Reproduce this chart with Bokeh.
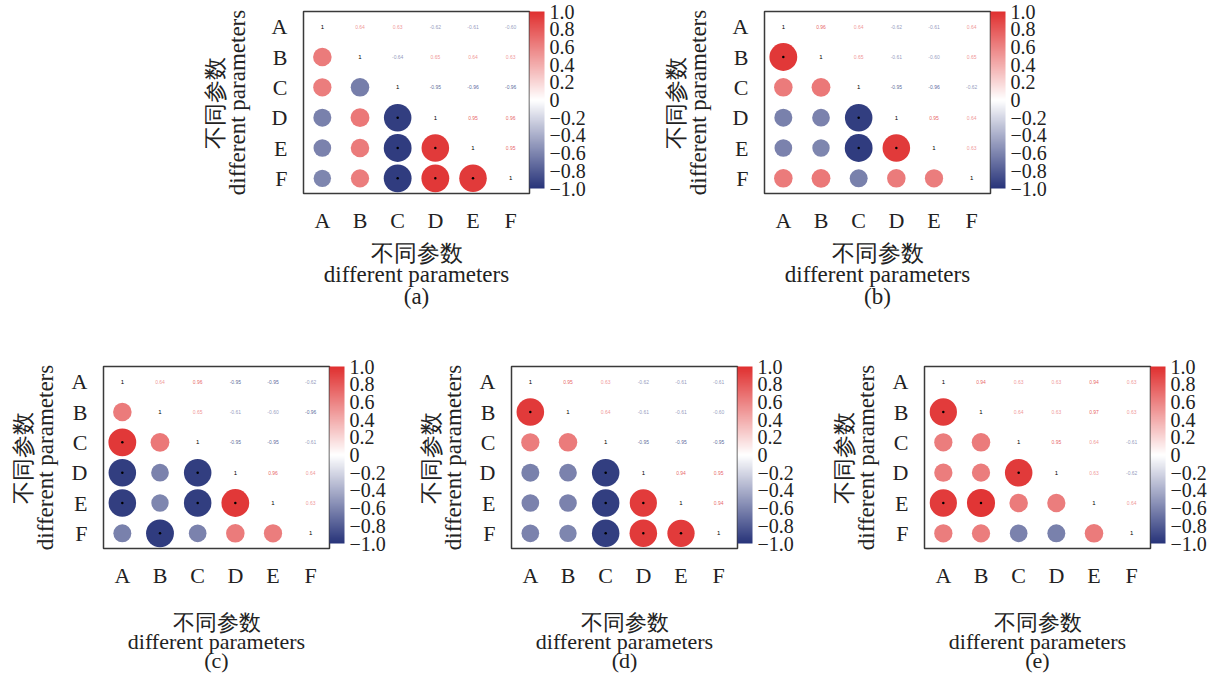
import numpy as np
from bokeh.plotting import figure
from bokeh.models import ColumnDataSource, LinearColorMapper, ColorBar, FixedTicker, Spacer, AllLabels
from bokeh.layouts import row, column
from bokeh.transform import transform
from bokeh.core.properties import value
from bokeh.embed import file_html
from bokeh.resources import INLINE

params = ["A", "B", "C", "D", "E", "F"]
panel_tags = ["(a)", "(b)", "(c)", "(d)", "(e)"]
title_cn = "不同参数"
title_en = "different parameters"
cbar_ticks = [-1.0, -0.8, -0.6, -0.4, -0.2, 0.0, 0.2, 0.4, 0.6, 0.8, 1.0]
cbar_labels = ["−1.0", "−0.8", "−0.6", "−0.4", "−0.2", "0", "0.2", "0.4", "0.6", "0.8", "1.0"]

# lower-triangle correlation values: rows B..F, columns A..(row-1)
corr_a = [
    [0.64],
    [0.63, -0.64],
    [-0.62, 0.65, -0.95],
    [-0.61, 0.64, -0.96, 0.95],
    [-0.60, 0.63, -0.96, 0.96, 0.95],
]
corr_b = [
    [0.96],
    [0.64, 0.65],
    [-0.62, -0.61, -0.95],
    [-0.61, -0.60, -0.96, 0.95],
    [0.64, 0.65, -0.62, 0.64, 0.63],
]
corr_c = [
    [0.64],
    [0.96, 0.65],
    [-0.95, -0.61, -0.95],
    [-0.95, -0.60, -0.95, 0.96],
    [-0.62, -0.96, -0.61, 0.64, 0.63],
]
corr_d = [
    [0.95],
    [0.63, 0.64],
    [-0.62, -0.61, -0.95],
    [-0.61, -0.61, -0.95, 0.94],
    [-0.61, -0.60, -0.95, 0.95, 0.94],
]
corr_e = [
    [0.94],
    [0.63, 0.64],
    [0.63, 0.63, 0.95],
    [0.94, 0.97, 0.64, 0.63],
    [0.63, 0.63, -0.61, -0.62, 0.64],
]
all_corr = [corr_a, corr_b, corr_c, corr_d, corr_e]

# colour palette: navy -> white -> red
def _mix(c1, c2, t):
    return "#%02x%02x%02x" % tuple(int(round(a + (b - a) * t)) for a, b in zip(c1, c2))

NAVY = (40, 52, 122)
WHITE = (255, 255, 255)
RED = (224, 48, 48)
palette = [_mix(NAVY, WHITE, i / 127) for i in range(128)] + [_mix(WHITE, RED, i / 127) for i in range(128)]
mapper = LinearColorMapper(palette=palette, low=-1, high=1)

SERIF = "Liberation Serif"
MAXD = 29.0


def make_panel(lower, tag, cfg):
    full = np.eye(6)
    for i, rowvals in enumerate(lower, start=1):
        for j, v in enumerate(rowvals):
            full[i, j] = v
            full[j, i] = v
    lx, ly, lr, ls = [], [], [], []
    ux, uy, ur, ut = [], [], [], []
    dx, dy = [], []
    for i in range(6):
        for j in range(6):
            v = full[i, j]
            if i > j:
                lx.append(params[j]); ly.append(params[i]); lr.append(v); ls.append(MAXD * abs(v))
                if abs(v) >= 0.9:
                    dx.append(params[j]); dy.append(params[i])
            elif i < j:
                ux.append(params[j]); uy.append(params[i]); ur.append(v); ut.append("%.2f" % v)
    lower_src = ColumnDataSource(dict(x=lx, y=ly, r=lr, s=ls))
    upper_src = ColumnDataSource(dict(x=ux, y=uy, r=ur, t=ut))
    diag_src = ColumnDataSource(dict(x=params, y=params, t=["1"] * 6))
    dot_src = ColumnDataSource(dict(x=dx, y=dy))

    p = figure(x_range=params, y_range=params[::-1], frame_width=226, frame_height=182,
               min_border_left=cfg["left"], min_border_right=62, min_border_top=cfg["top"],
               min_border_bottom=cfg["bottom"], output_backend="svg", toolbar_location=None)
    p.grid.visible = False
    p.outline_line_color = "#3a3a3a"
    p.outline_line_width = 1.5
    p.background_fill_color = "white"
    p.border_fill_color = "white"

    p.scatter("x", "y", source=lower_src, size="s", marker="circle",
              fill_color=transform("r", mapper), line_color=None)
    p.scatter("x", "y", source=dot_src, size=2.5, marker="circle", fill_color="black", line_color=None)
    p.text("x", "y", text="t", source=upper_src, text_font_size="5px", text_alpha=0.8,
           text_color=transform("r", mapper), text_align="center", text_baseline="middle",
           text_font=value("Liberation Sans"))
    p.text("x", "y", text="t", source=diag_src, text_font_size="6px", text_color="black",
           text_align="center", text_baseline="middle", text_font=value("Liberation Sans"))

    for ax in (p.xaxis[0], p.yaxis[0]):
        ax.axis_line_color = None
        ax.major_tick_line_color = None
        ax.minor_tick_line_color = None
        ax.major_tick_out = 0
        ax.major_tick_in = 0
        ax.major_label_text_font = SERIF
        ax.major_label_text_font_size = "22px"
        ax.major_label_text_color = "#222222"
        ax.axis_label_text_font = SERIF
        ax.axis_label_text_font_style = "normal"
        ax.axis_label_text_color = "#222222"

    p.xaxis.major_label_standoff = 14
    p.xaxis.axis_label = title_cn + "\n" + title_en + "\n" + tag
    p.xaxis.axis_label_text_font_size = cfg["xfont"]
    p.xaxis.axis_label_text_line_height = cfg["xlh"]
    p.xaxis.axis_label_standoff = cfg["xstand"]

    p.yaxis.major_label_standoff = 16
    p.yaxis.major_label_orientation = "horizontal"
    p.yaxis.axis_label = title_cn + "\n" + title_en
    p.yaxis.axis_label_text_font_size = "23px"
    p.yaxis.axis_label_text_line_height = 0.88
    p.yaxis.axis_label_standoff = cfg["ystand"]

    cb = ColorBar(color_mapper=mapper, ticker=FixedTicker(ticks=cbar_ticks),
                  major_label_overrides={t: l for t, l in zip(cbar_ticks, cbar_labels)},
                  major_label_policy=AllLabels(),
                  width=15, height=177, location="top_left", margin=3, padding=0,
                  label_standoff=5, major_tick_line_color=None, minor_tick_line_color=None,
                  bar_line_color=None, border_line_color=None, background_fill_color=None,
                  major_label_text_font=SERIF, major_label_text_font_size="20px",
                  major_label_text_color="#222222")
    p.add_layout(cb, "right")
    return p


top_cfg = dict(left=106, top=11, bottom=140, xfont="23px", xlh=0.86, xstand=5, ystand=19)
bot_cfg = dict(left=100, top=33, bottom=120, xfont="22px", xlh=0.76, xstand=19, ystand=11)

figs = []
for k, (lower, tag) in enumerate(zip(all_corr, panel_tags)):
    figs.append(make_panel(lower, tag, top_cfg if k < 2 else bot_cfg))

top = row(Spacer(width=197), figs[0], Spacer(width=67), figs[1])
bottom = row(Spacer(width=3), figs[2], Spacer(width=20), figs[3], Spacer(width=25), figs[4])
layout = column(top, bottom)

open("out.html", "w").write(file_html(layout, INLINE))
